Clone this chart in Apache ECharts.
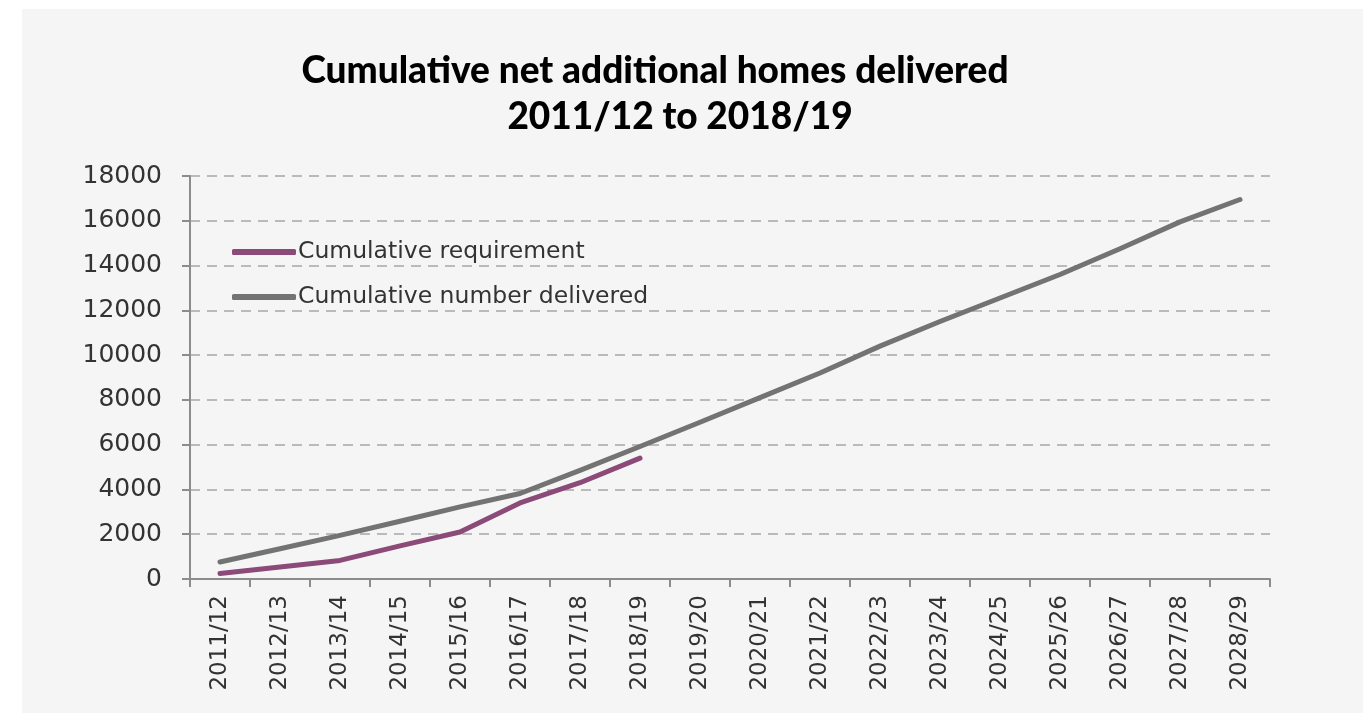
<!DOCTYPE html>
<html>
<head>
<meta charset="utf-8">
<title>Cumulative net additional homes delivered</title>
<script src="https://cdn.jsdelivr.net/npm/echarts@6/dist/echarts.min.js"></script>
<style>
  html, body { margin: 0; padding: 0; background: #ffffff; }
  #chart { width: 1366px; height: 717px; }
</style>
</head>
<body>
<div id="chart"></div>
<script>
// Financial years on the category axis
const years = [
  '2011/12', '2012/13', '2013/14', '2014/15', '2015/16', '2016/17',
  '2017/18', '2018/19', '2019/20', '2020/21', '2021/22', '2022/23',
  '2023/24', '2024/25', '2025/26', '2026/27', '2027/28', '2028/29'
];

// Cumulative requirement (known up to 2018/19)
const cumulativeRequirement = [
  250, 540, 830, 1480, 2100, 3400, 4300, 5400,
  null, null, null, null, null, null, null, null, null, null
];

// Cumulative number of homes delivered
const cumulativeDelivered = [
  760, 1350, 1950, 2580, 3220, 3820, 4850, 5920,
  7000, 8100, 9200, 10400, 11500, 12550, 13600, 14750, 15950, 16950
];

// Value axis ticks
const yMin = 0;
const yMax = 18000;
const yStep = 2000;

const seriesNames = ['Cumulative requirement', 'Cumulative number delivered'];
const titleLines = ['Cumulative net additional homes delivered', '2011/12 to 2018/19'];

const labelFont = 'DejaVu Sans';
const textColor = '#333333';

const chart = echarts.init(document.getElementById('chart'), null, { renderer: 'canvas' });

chart.setOption({
  backgroundColor: '#ffffff',
  animation: false,
  graphic: [{
    type: 'rect',
    z: -10,
    shape: { x: 22, y: 9, width: 1341, height: 704 },
    style: { fill: '#f5f5f5' }
  }],
  title: [
    {
      text: titleLines[0],
      left: 650, top: 48, textAlign: 'center',
      textStyle: { fontFamily: 'Lato', fontWeight: 900, fontSize: 37, color: '#000000' }
    },
    {
      text: titleLines[1],
      left: 675, top: 94, textAlign: 'center',
      textStyle: { fontFamily: 'Lato', fontWeight: 900, fontSize: 37, color: '#000000' }
    }
  ],
  legend: {
    orient: 'vertical',
    left: 227, top: 233,
    itemWidth: 64, itemHeight: 6, itemGap: 17,
    icon: 'roundRect',
    data: seriesNames,
    textStyle: { fontFamily: labelFont, fontSize: 23.5, color: textColor, lineHeight: 28, padding: [0, 0, 0, -3] }
  },
  grid: { left: 190, right: 96, top: 176, bottom: 138 },
  xAxis: {
    type: 'category',
    data: years,
    boundaryGap: true,
    axisLine: { lineStyle: { color: '#8c8c8c', width: 2 } },
    axisTick: { show: true, length: 8, lineStyle: { color: '#8c8c8c', width: 2 } },
    axisLabel: {
      rotate: 90, margin: 16, interval: 0,
      fontFamily: labelFont, fontSize: 23, color: textColor
    },
    splitLine: { show: false }
  },
  yAxis: {
    type: 'value',
    min: yMin, max: yMax, interval: yStep,
    axisLine: { show: true, lineStyle: { color: '#8c8c8c', width: 2 } },
    axisTick: { show: true, length: 8, lineStyle: { color: '#8c8c8c', width: 2 } },
    axisLabel: {
      margin: 28, fontFamily: labelFont, fontSize: 25, color: textColor,
      formatter: (v) => String(v)
    },
    splitLine: { show: true, lineStyle: { color: '#a6a6a6', width: 1.5, type: [10, 7] } }
  },
  series: [
    {
      name: seriesNames[0],
      type: 'line',
      data: cumulativeRequirement,
      symbol: 'none',
      connectNulls: false,
      itemStyle: { color: '#8c4a78' },
      lineStyle: { color: '#8c4a78', width: 5, cap: 'round', join: 'round' },
      z: 3
    },
    {
      name: seriesNames[1],
      type: 'line',
      data: cumulativeDelivered,
      symbol: 'none',
      itemStyle: { color: '#737373' },
      lineStyle: { color: '#737373', width: 5, cap: 'round', join: 'round' },
      z: 2
    }
  ]
});
</script>
</body>
</html>
